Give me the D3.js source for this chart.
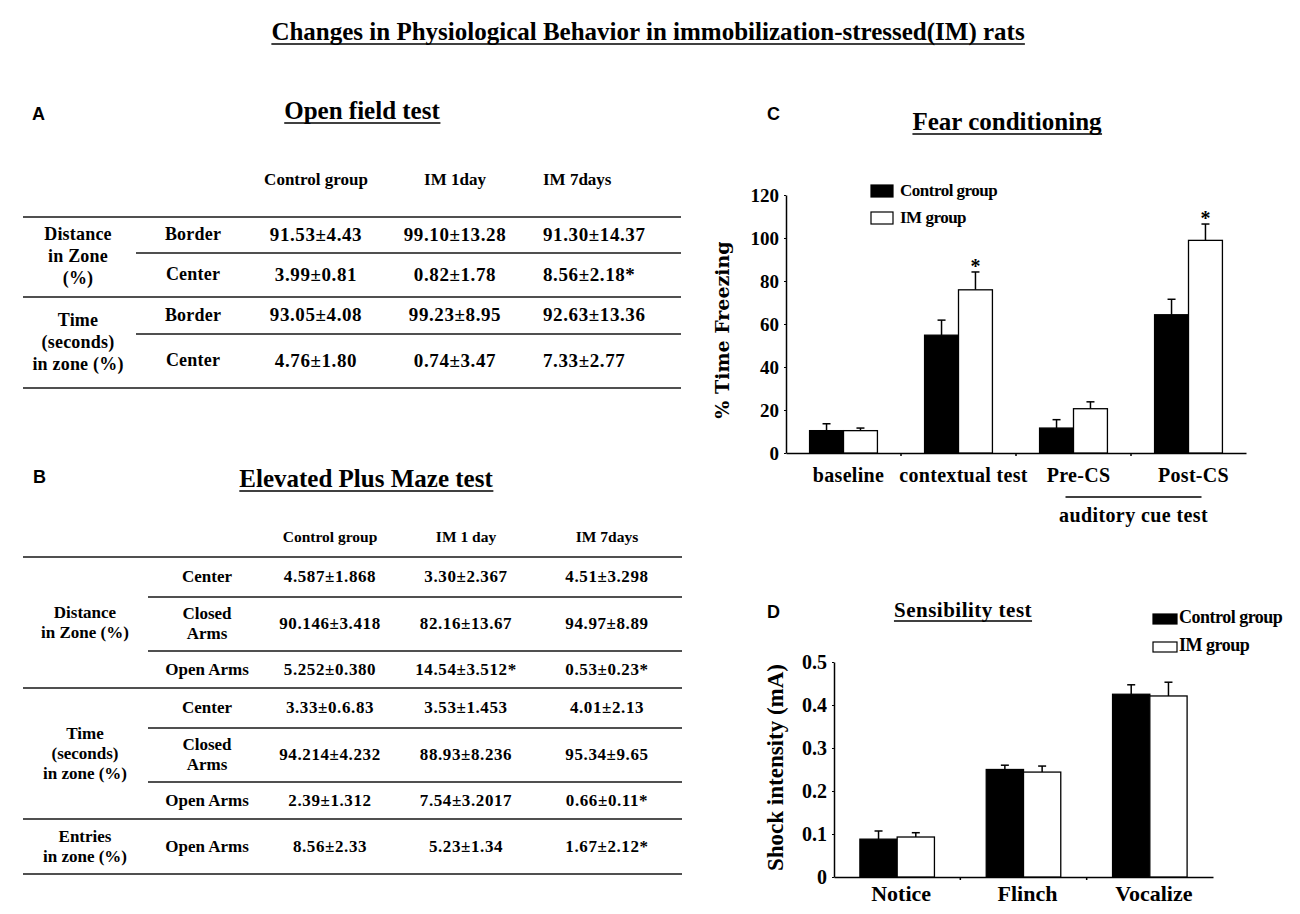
<!DOCTYPE html>
<html lang="en">
<head>
<meta charset="UTF-8">
<title>Changes in Physiological Behavior</title>
<script src="https://cdn.jsdelivr.net/npm/d3@7"></script>
<style>
    body {
        margin: 0;
        padding: 0;
        background: #fff;
    }
    text {
        font-family: "Liberation Serif", "Times New Roman", serif;
        font-weight: bold;
        fill: #000;
    }
    .letter {
        font-family: "Liberation Sans", Arial, sans-serif;
        font-size: 18px;
    }
</style>
</head>
<body>
<svg width="1300" height="914" id="mainsvg"></svg>
<script>
    // ---- table A: open field ----
    const fieldCols = ["Control group", "IM 1day", "IM 7days"];
    const fieldGroups = [["Distance", "in Zone", "(%)"], ["Time", "(seconds)", "in zone (%)"]];
    const fieldGroupRows = [2, 2];
    const fieldZones = [["Border"], ["Center"], ["Border"], ["Center"]];
    const fieldValues = [
        ["91.53±4.43", "99.10±13.28", "91.30±14.37"],
        ["3.99±0.81", "0.82±1.78", "8.56±2.18*"],
        ["93.05±4.08", "99.23±8.95", "92.63±13.36"],
        ["4.76±1.80", "0.74±3.47", "7.33±2.77"]
    ];

    // ---- table B: elevated plus maze ----
    const mazeCols = ["Control group", "IM 1 day", "IM 7days"];
    const mazeGroups = [["Distance", "in Zone (%)"], ["Time", "(seconds)", "in zone (%)"], ["Entries", "in zone (%)"]];
    const mazeGroupRows = [3, 3, 1];
    const mazeZones = [["Center"], ["Closed", "Arms"], ["Open Arms"], ["Center"], ["Closed", "Arms"], ["Open Arms"], ["Open Arms"]];
    const mazeValues = [
        ["4.587±1.868", "3.30±2.367", "4.51±3.298"],
        ["90.146±3.418", "82.16±13.67", "94.97±8.89"],
        ["5.252±0.380", "14.54±3.512*", "0.53±0.23*"],
        ["3.33±0.6.83", "3.53±1.453", "4.01±2.13"],
        ["94.214±4.232", "88.93±8.236", "95.34±9.65"],
        ["2.39±1.312", "7.54±3.2017", "0.66±0.11*"],
        ["8.56±2.33", "5.23±1.34", "1.67±2.12*"]
    ];

    // ---- chart C: fear conditioning ----
    const groupNames = ["Control group", "IM group"];
    const fearCats = ["baseline", "contextual test", "Pre-CS", "Post-CS"];
    const fearControl = [10.4, 54.8, 11.6, 64.3];
    const fearControlErr = [3.2, 7.0, 3.9, 7.2];
    const fearIM = [10.4, 75.9, 20.6, 98.9];
    const fearIMErr = [1.2, 8.3, 3.2, 7.6];
    const fearStar = [false, true, false, true];
    const fearTicks = [0, 20, 40, 60, 80, 100, 120];

    // ---- chart D: sensibility ----
    const senseCats = ["Notice", "Flinch", "Vocalize"];
    const senseControl = [0.088, 0.250, 0.425];
    const senseControlErr = [0.019, 0.010, 0.022];
    const senseIM = [0.093, 0.244, 0.421];
    const senseIMErr = [0.010, 0.014, 0.032];
    const senseStar = [false, false, false];
    const senseTicks = [0, 0.1, 0.2, 0.3, 0.4, 0.5];
    const senseTickLabels = ["0", "0.1", "0.2", "0.3", "0.4", "0.5"];

    const svg = d3.select("#mainsvg");

    function title(txt, x, y, size, ls) {
        const t = svg.append("text")
            .attr("x", x).attr("y", y)
            .attr("text-anchor", "middle")
            .attr("font-size", size)
            .attr("letter-spacing", ls)
            .text(txt);
        const b = t.node().getBBox();
        svg.append("line")
            .attr("x1", b.x).attr("x2", b.x + b.width)
            .attr("y1", y + 4).attr("y2", y + 4)
            .attr("stroke", "#000").attr("stroke-width", 1.6);
    }

    function letter(txt, x, y) {
        svg.append("text").attr("class", "letter").attr("x", x).attr("y", y).text(txt);
    }

    function drawTable(cfg) {
        const g = svg.append("g");
        cfg.cols.forEach((c, j) => {
            g.append("text")
                .attr("x", cfg.colX[j]).attr("y", cfg.headerY)
                .attr("text-anchor", cfg.anchor[j])
                .attr("font-size", cfg.headSize)
                .attr("letter-spacing", cfg.headLs)
                .text(c);
        });
        let starts = [0];
        cfg.groupRows.forEach(n => starts.push(starts[starts.length - 1] + n));
        cfg.edges.forEach((y, i) => {
            const full = starts.includes(i);
            g.append("line")
                .attr("x1", full ? cfg.x0 : cfg.xSub).attr("x2", cfg.x1)
                .attr("y1", y).attr("y2", y)
                .attr("stroke", "#505050").attr("stroke-width", 2.2);
        });
        cfg.groups.forEach((lines, k) => {
            const cy = (cfg.edges[starts[k]] + cfg.edges[starts[k + 1]]) / 2;
            lines.forEach((l, i) => {
                g.append("text")
                    .attr("x", cfg.groupX)
                    .attr("y", cy + (i - (lines.length - 1) / 2) * cfg.lh + cfg.labelSize * 0.3)
                    .attr("text-anchor", "middle")
                    .attr("font-size", cfg.labelSize)
                    .attr("letter-spacing", cfg.labelLs)
                    .text(l);
            });
        });
        cfg.zones.forEach((lines, r) => {
            const cy = (cfg.edges[r] + cfg.edges[r + 1]) / 2;
            lines.forEach((l, i) => {
                g.append("text")
                    .attr("x", cfg.zoneX)
                    .attr("y", cy + (i - (lines.length - 1) / 2) * cfg.lh + cfg.labelSize * 0.3)
                    .attr("text-anchor", "middle")
                    .attr("font-size", cfg.labelSize)
                    .attr("letter-spacing", cfg.labelLs)
                    .text(l);
            });
            cfg.values[r].forEach((v, j) => {
                g.append("text")
                    .attr("x", cfg.colX[j]).attr("y", cy + cfg.fontSize * 0.3)
                    .attr("text-anchor", cfg.anchor[j])
                    .attr("font-size", cfg.fontSize)
                    .attr("letter-spacing", cfg.valLs)
                    .text(v);
            });
        });
    }

    function barChart(cfg) {
        const g = svg.append("g");
        const x = d3.scaleBand().domain(cfg.cats).range([cfg.left, cfg.right]).padding(0);
        const y = d3.scaleLinear().domain(cfg.domain).range([cfg.bottom, cfg.top]);
        const bw = x.bandwidth() * 0.295;

        const ya = g.append("g")
            .attr("transform", "translate(" + cfg.left + ",0)")
            .call(d3.axisLeft(y).tickValues(cfg.ticks).tickSize(2).tickSizeOuter(0)
                .tickPadding(5).tickFormat(cfg.fmt));
        ya.attr("font-family", null).attr("font-size", null);
        ya.selectAll("text").attr("font-size", cfg.tickFont);
        ya.select(".domain").attr("stroke-width", 1.5);

        const xa = g.append("g")
            .attr("transform", "translate(0," + cfg.bottom + ")")
            .call(d3.axisBottom(x).tickSize(0).tickSizeOuter(0).tickFormat(""));
        xa.select(".domain").attr("stroke-width", 1.5);
        g.selectAll(".sep").data(cfg.cats.slice(1)).join("line")
            .attr("x1", d => x(d)).attr("x2", d => x(d))
            .attr("y1", cfg.bottom).attr("y2", cfg.bottom + 3)
            .attr("stroke", "#000").attr("stroke-width", 1.5);

        const series = [
            {vals: cfg.control, errs: cfg.controlErr, fill: "#000", off: -bw},
            {vals: cfg.im, errs: cfg.imErr, fill: "#fff", off: 0}
        ];
        series.forEach(s => {
            cfg.cats.forEach((c, i) => {
                const cx = x(c) + x.bandwidth() / 2 + s.off;
                const top = y(s.vals[i] + s.errs[i]);
                g.append("line")
                    .attr("x1", cx + bw / 2).attr("x2", cx + bw / 2)
                    .attr("y1", y(s.vals[i])).attr("y2", top)
                    .attr("stroke", "#000").attr("stroke-width", 1.5);
                g.append("line")
                    .attr("x1", cx + bw / 2 - 4).attr("x2", cx + bw / 2 + 4)
                    .attr("y1", top).attr("y2", top)
                    .attr("stroke", "#000").attr("stroke-width", 1.5);
                g.append("rect")
                    .attr("x", cx).attr("y", y(s.vals[i]))
                    .attr("width", bw).attr("height", y(0) - y(s.vals[i]))
                    .attr("fill", s.fill).attr("stroke", "#000").attr("stroke-width", 1.3);
            });
        });
        cfg.cats.forEach((c, i) => {
            if (cfg.stars[i]) {
                g.append("text")
                    .attr("x", x(c) + x.bandwidth() / 2 + bw / 2)
                    .attr("y", y(cfg.im[i] + cfg.imErr[i]) + 1)
                    .attr("text-anchor", "middle")
                    .attr("font-size", 20)
                    .text("*");
            }
            g.append("text")
                .attr("x", x(c) + x.bandwidth() / 2 + cfg.labelDx)
                .attr("y", cfg.bottom + cfg.labelDy)
                .attr("text-anchor", "middle")
                .attr("font-size", cfg.labelSize)
                .attr("letter-spacing", cfg.labelLs)
                .text(c);
        });
        // legend
        groupNames.forEach((n, i) => {
            const ly = cfg.legY + i * cfg.legGap;
            g.append("rect")
                .attr("x", cfg.legX).attr("y", ly)
                .attr("width", cfg.legW).attr("height", cfg.legH)
                .attr("fill", i === 0 ? "#000" : "#fff")
                .attr("stroke", "#000").attr("stroke-width", 1.2);
            g.append("text")
                .attr("x", cfg.legX + cfg.legW + cfg.legPad).attr("y", ly + cfg.legH - 1)
                .attr("font-size", cfg.legFont)
                .attr("letter-spacing", -0.5)
                .text(n);
        });
        // y label
        g.append("text")
            .attr("transform", "translate(" + cfg.yLabX + "," + ((cfg.top + cfg.bottom) / 2 + cfg.yLabDy) + ") rotate(-90)")
            .attr("text-anchor", "middle")
            .attr("dominant-baseline", "central")
            .style("font-family", cfg.yLabFamily)
            .attr("font-size", cfg.yLabSize)
            .text(cfg.yLabel);
        return x;
    }

    // ---- titles ----
    title("Changes in Physiological Behavior in immobilization-stressed(IM) rats", 648, 40, 25, 0);
    letter("A", 32, 120);
    title("Open field test", 362, 119, 25, 0);
    letter("B", 33, 483);
    title("Elevated Plus Maze test", 366, 487, 25, 0);
    letter("C", 767, 120);
    title("Fear conditioning", 1007, 130, 25, 0);
    letter("D", 767, 618);
    title("Sensibility test", 963, 617, 21, 0.5);

    drawTable({
        cols: fieldCols, groups: fieldGroups, groupRows: fieldGroupRows,
        zones: fieldZones, values: fieldValues,
        colX: [316, 455, 543], anchor: ["middle", "middle", "start"],
        headerY: 185, headSize: 17, headLs: 0, fontSize: 19, valLs: 0.6,
        labelSize: 18, labelLs: 0.2, lh: 22,
        edges: [217, 253, 297, 334, 388],
        x0: 23, xSub: 136, x1: 681, groupX: 78, zoneX: 193
    });

    drawTable({
        cols: mazeCols, groups: mazeGroups, groupRows: mazeGroupRows,
        zones: mazeZones, values: mazeValues,
        colX: [330, 466, 607], anchor: ["middle", "middle", "middle"],
        headerY: 542, headSize: 15.5, headLs: 0, fontSize: 17, valLs: 0.6,
        labelSize: 17, labelLs: 0, lh: 20,
        edges: [557, 597, 651, 688, 728, 782, 819, 874],
        x0: 23, xSub: 148, x1: 682, groupX: 85, zoneX: 207
    });

    const fx = barChart({
        cats: fearCats, control: fearControl, controlErr: fearControlErr,
        im: fearIM, imErr: fearIMErr, stars: fearStar,
        domain: [0, 120], ticks: fearTicks, fmt: d => d, tickFont: 19,
        left: 786, right: 1246, top: 195, bottom: 453,
        labelSize: 20, labelLs: 0.3, labelDx: 5, labelDy: 29,
        legX: 871, legY: 185, legGap: 27, legW: 22, legH: 12, legPad: 7, legFont: 17,
        yLabel: "% Time Freezing", yLabX: 722, yLabDy: 6, yLabSize: 19, yLabFamily: "DejaVu Serif"
    });
    // auditory cue test bracket
    const a0 = fx("Pre-CS") + fx.bandwidth() / 2 - 8;
    const a1 = fx("Post-CS") + fx.bandwidth() / 2 + 13;
    svg.append("line").attr("x1", a0).attr("x2", a1).attr("y1", 497).attr("y2", 497)
        .attr("stroke", "#000").attr("stroke-width", 1.3);
    svg.append("text").attr("x", (a0 + a1) / 2).attr("y", 522)
        .attr("text-anchor", "middle").attr("font-size", 20).attr("letter-spacing", 0.4)
        .text("auditory cue test");

    barChart({
        cats: senseCats, control: senseControl, controlErr: senseControlErr,
        im: senseIM, imErr: senseIMErr, stars: senseStar,
        domain: [0, 0.5], ticks: senseTicks, fmt: (d, i) => senseTickLabels[i], tickFont: 20,
        left: 834, right: 1213, top: 662, bottom: 877,
        labelSize: 22, labelLs: 0, labelDx: 4, labelDy: 24,
        legX: 1153, legY: 614, legGap: 28, legW: 24, legH: 10, legPad: 2, legFont: 18,
        yLabel: "Shock intensity (mA)", yLabX: 775, yLabDy: -2, yLabSize: 23, yLabFamily: "Liberation Serif"
    });
</script>
</body>
</html>
